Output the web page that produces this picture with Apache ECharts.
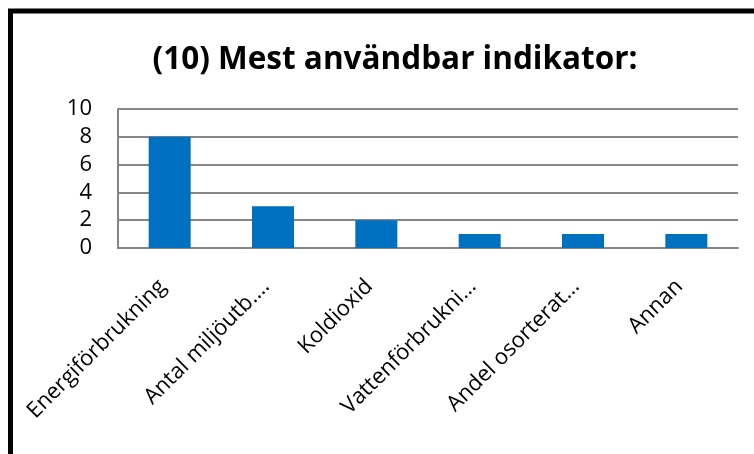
<!DOCTYPE html>
<html>
<head>
<meta charset="utf-8">
<script src="https://cdn.jsdelivr.net/npm/echarts@6/dist/echarts.min.js"></script>
<style>
  html, body { margin: 0; padding: 0; background: #fff; }
  #chart { width: 754px; height: 454px; }
</style>
</head>
<body>
<div id="chart"></div>
<script>
const categories = ['Energiförbrukning', 'Antal miljöutb.…', 'Koldioxid', 'Vattenförbrukni…', 'Andel osorterat…', 'Annan'];
const answers = [8, 3, 2, 1, 1, 1];
const yTicks = { min: 0, max: 10, interval: 2 };

const chart = echarts.init(document.getElementById('chart'));
chart.setOption({
  animation: false,
  backgroundColor: '#fff',
  textStyle: { fontFamily: 'Open Sans', color: '#000' },
  title: {
    text: '(10) Mest användbar indikator:',
    left: 390,
    top: 39,
    textAlign: 'center',
    textStyle: { fontSize: 31.5, fontWeight: 'bold', color: '#000', fontFamily: 'Open Sans' },
  },
  graphic: [
    {
      type: 'rect',
      shape: { x: 10.5, y: 11, width: 800, height: 500 },
      style: { fill: 'none', stroke: '#000', lineWidth: 5 },
      z: 100,
    },
  ],
  grid: { left: 118, right: 16, top: 109, bottom: 206 },
  xAxis: {
    type: 'category',
    data: categories,
    axisLine: { show: true, lineStyle: { color: '#868686', width: 2 } },
    axisTick: { show: false },
    axisLabel: {
      rotate: 45,
      interval: 0,
      margin: 28,
      padding: [0, 10, 0, 0],
      fontSize: 22,
      color: '#000',
      fontFamily: 'Open Sans',
    },
  },
  yAxis: {
    type: 'value',
    min: yTicks.min,
    max: yTicks.max,
    interval: yTicks.interval,
    axisLine: { show: true, lineStyle: { color: '#868686', width: 2 } },
    axisTick: { show: false },
    splitLine: { lineStyle: { color: '#868686', width: 2 } },
    axisLabel: { fontSize: 22, color: '#000', margin: 26, fontFamily: 'Open Sans' },
  },
  series: [
    {
      type: 'bar',
      data: answers,
      barWidth: 42,
      itemStyle: { color: '#0070C0' },
    },
  ],
});
</script>
</body>
</html>
